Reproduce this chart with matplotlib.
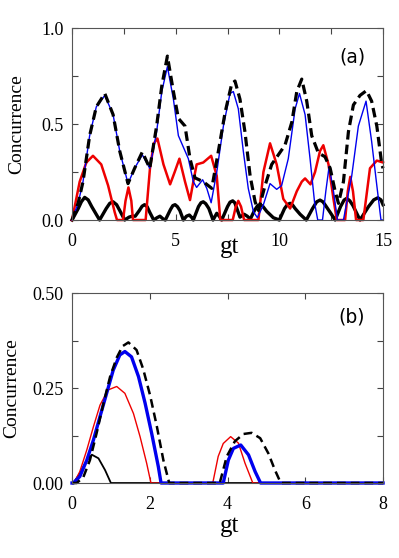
import numpy as np
import matplotlib
matplotlib.use("Agg")
import matplotlib.pyplot as plt
from matplotlib.ticker import MultipleLocator, FormatStrFormatter

plt.rcParams['font.family'] = ['Liberation Serif', 'DejaVu Serif']
plt.rcParams['mathtext.fontset'] = 'stix'

# ---- panel (a) data ----
gt_dash_a = [0, 0.3, 0.53, 0.85, 1.17, 1.58, 1.98, 2.3, 2.7, 3.02, 3.39, 3.75, 4.08, 4.33,
             4.6, 4.89, 5.13, 5.45, 5.69, 5.93, 6.33, 6.74, 7.06, 7.38, 7.7, 7.86, 8.1, 8.34,
             8.59, 8.83, 8.99, 9.31, 9.63, 9.95, 10.27, 10.6, 10.84, 11.08, 11.32, 11.56,
             11.88, 12.2, 12.45, 12.69, 12.85, 13.09, 13.33, 13.57, 13.89, 14.2, 14.45, 14.7,
             14.94, 15.0]
c_dash_a = [0, 0.09, 0.2, 0.44, 0.59, 0.66, 0.55, 0.36, 0.19, 0.27, 0.355, 0.27, 0.49, 0.7,
            0.855, 0.67, 0.53, 0.49, 0.32, 0.22, 0.2, 0.165, 0.36, 0.56, 0.71, 0.725, 0.63, 0.46,
            0.23, 0.095, 0.05, 0.18, 0.29, 0.34, 0.39, 0.51, 0.67, 0.735, 0.62, 0.44,
            0.35, 0.33, 0.27, 0.15, 0.087, 0.2, 0.46, 0.6, 0.65, 0.675, 0.62, 0.49,
            0.29, 0.27]

gt_blue_a = [0, 0.3, 0.53, 0.85, 1.17, 1.58, 1.98, 2.3, 2.7, 3.02, 3.39, 3.75, 4.08, 4.33,
             4.6, 4.89, 5.13, 5.37, 5.61, 5.85, 6.01, 6.3, 6.5, 6.71, 6.98, 7.3, 7.62, 7.78,
             8.02, 8.26, 8.5, 8.75, 8.94, 9.23, 9.55, 9.87, 10.11, 10.43, 10.76, 10.97, 11.24,
             11.48, 11.7, 11.85, 12.08, 12.24, 12.4, 12.61, 12.8, 13.09, 13.49, 13.81, 14.18,
             14.45, 14.7, 14.9, 15.0]
c_blue_a = [0, 0.09, 0.2, 0.44, 0.59, 0.65, 0.55, 0.36, 0.19, 0.27, 0.34, 0.27, 0.46, 0.67,
            0.8, 0.63, 0.44, 0.38, 0.32, 0.2, 0.17, 0.21, 0.165, 0.09, 0.25, 0.49, 0.66, 0.67,
            0.58, 0.36, 0.165, 0.043, 0.012, 0.08, 0.19, 0.16, 0.18, 0.32, 0.58, 0.66, 0.55,
            0.32, 0.09, 0, 0, 0.15, 0.28, 0.15, 0, 0, 0.23, 0.49, 0.62,
            0.41, 0.18, 0, 0]

gt_red_a = [0, 0.37, 0.69, 1.01, 1.41, 1.74, 2.06, 2.17, 2.46, 2.58, 2.72, 2.86, 2.94, 3.55,
            3.76, 3.95, 4.12, 4.41, 4.73, 4.95, 5.18, 5.45, 5.69, 5.85, 6.01, 6.33, 6.71, 6.98,
            7.15, 7.75, 7.9, 8.02, 8.15, 8.3, 8.99, 9.23, 9.55, 9.87, 10.19, 10.52, 10.84,
            11.08, 11.24, 11.5, 11.72, 11.96, 12.12, 12.37, 12.61, 12.77, 13.17, 13.3, 13.42,
            13.55, 13.7, 14.05, 14.37, 14.7, 15.0]
c_red_a = [0, 0.2, 0.3, 0.335, 0.29, 0.18, 0.04, 0, 0, 0.1, 0.17, 0.1, 0, 0,
           0.27, 0.40, 0.425, 0.29, 0.186, 0.25, 0.32, 0.2, 0.104, 0.2, 0.29, 0.3, 0.335, 0.23,
           0, 0, 0.07, 0.1, 0.07, 0, 0, 0.25, 0.4, 0.29, 0.11, 0.06, 0.15,
           0.2, 0.217, 0.186, 0.25, 0.36, 0.39, 0.29, 0.11, 0, 0, 0.15, 0.225,
           0.15, 0, 0, 0.27, 0.31, 0.3]

gt_blk_a = [0, 0.3, 0.45, 0.61, 0.78, 0.95, 1.33, 1.65, 1.82, 1.98, 2.15, 2.3, 2.54, 2.75,
            2.9, 3.05, 3.25, 3.38, 3.5, 3.62, 3.75, 3.94, 4.1, 4.24, 4.4, 4.5, 4.75, 4.86,
            4.97, 5.08, 5.2, 5.37, 5.52, 5.66, 5.8, 5.85, 6.1, 6.22, 6.33, 6.45, 6.6, 6.8,
            6.98, 7.1, 7.22, 7.5, 7.62, 7.75, 7.85, 7.95, 8.1, 8.3, 8.45, 8.6, 8.8, 8.95,
            9.07, 9.2, 9.39, 9.71, 10.0, 10.25, 10.4, 10.52, 10.64, 10.76, 11.0, 11.3, 11.6,
            11.8, 11.96, 12.1, 12.2, 12.45, 12.69, 12.95, 13.12, 13.25, 13.4, 13.55, 13.89,
            14.3, 14.55, 14.75, 14.9, 15.0]
c_blk_a = [0, 0.06, 0.095, 0.118, 0.105, 0.07, 0, 0.06, 0.087, 0.095, 0.08, 0.05, 0, 0.015,
           0.02, 0.02, 0.05, 0.072, 0.08, 0.07, 0.04, 0, 0.012, 0.02, 0.005, 0, 0.055, 0.075,
           0.08, 0.07, 0.05, 0, 0.02, 0.026, 0.01, 0, 0.07, 0.09, 0.095, 0.085, 0.06, 0,
           0.035, 0.02, 0, 0.07, 0.093, 0.1, 0.09, 0.06, 0.015, 0.03, 0.02, 0.005, 0.05, 0.075,
           0.08, 0.072, 0.045, 0.012, 0, 0.06, 0.082, 0.087, 0.078, 0.06, 0.03, 0, 0.06,
           0.095, 0.104, 0.095, 0.08, 0.04, 0, 0.07, 0.104, 0.113, 0.1, 0.075, 0,
           0.07, 0.105, 0.116, 0.105, 0.08]

# ---- panel (b) data ----
gt_dash_b = [0, 0.12, 0.29, 0.46, 0.63, 0.81, 0.98, 1.15, 1.3, 1.45, 1.66, 1.83, 2.01, 2.18,
             2.35, 2.5, 3.8, 3.98, 4.19, 4.41, 4.62, 4.84, 5.05, 5.22, 5.37, 8.0]
c_dash_b = [0, 0, 0.015, 0.06, 0.13, 0.21, 0.28, 0.33, 0.36, 0.37, 0.35, 0.30, 0.23, 0.15,
            0.06, 0, 0, 0.07, 0.11, 0.129, 0.132, 0.118, 0.078, 0.034, 0, 0]

gt_blue_b = [0, 0.034, 0.2, 0.38, 0.55, 0.72, 0.89, 1.06, 1.23, 1.36, 1.53, 1.71, 1.88, 2.05,
             2.22, 2.29, 3.89, 4.02, 4.15, 4.34, 4.54, 4.71, 4.85, 8.0]
c_blue_b = [0, 0, 0.017, 0.06, 0.113, 0.175, 0.236, 0.297, 0.337, 0.346, 0.332, 0.28, 0.21,
            0.13, 0.043, 0, 0, 0.06, 0.091, 0.1, 0.074, 0.03, 0, 0]

gt_red_b = [0, 0.05, 0.2, 0.38, 0.55, 0.72, 0.93, 1.15, 1.36, 1.58, 1.75, 1.92, 2.03, 3.62,
            3.76, 3.89, 4.08, 4.28, 4.45, 4.65, 8.0]
c_red_b = [0, 0, 0.03, 0.087, 0.148, 0.205, 0.245, 0.254, 0.236, 0.183, 0.122, 0.052, 0, 0,
           0.07, 0.104, 0.122, 0.105, 0.052, 0, 0]

gt_blk_b = [0, 0.034, 0.2, 0.38, 0.51, 0.68, 0.85, 1.0, 8.0]
c_blk_b = [0, 0, 0.025, 0.06, 0.0745, 0.065, 0.034, 0, 0]


def style_axes(ax, xmaj, ymin, ylim, xlim, yfmt):
    ax.set_xlim(*xlim)
    ax.set_ylim(*ylim)
    ax.xaxis.set_major_locator(MultipleLocator(xmaj))
    ax.yaxis.set_major_locator(MultipleLocator(2 * ymin))
    ax.yaxis.set_minor_locator(MultipleLocator(ymin))
    ax.yaxis.set_major_formatter(FormatStrFormatter(yfmt))
    ax.tick_params(which='both', direction='in', top=True, right=True,
                   labelsize=13, color='#444444', length=4, width=0.8)
    ax.tick_params(axis='x', which='both', pad=9)
    ax.tick_params(axis='y', which='both', pad=6)
    for s in ax.spines.values():
        s.set_color('#555555')
        s.set_linewidth(0.8)


fig = plt.figure(figsize=(3.99, 5.58), dpi=100)
ax1 = fig.add_axes([0.1805, 0.6057, 0.7795, 0.3436])
ax2 = fig.add_axes([0.1805, 0.1344, 0.7795, 0.3405])

# panel (a)
ax1.plot(gt_blk_a, c_blk_a, color='black', lw=2.4, clip_on=False)
ax1.plot(gt_red_a, c_red_a, color='#ee0000', lw=1.8, clip_on=False)
ax1.plot(gt_blue_a, c_blue_a, color='#0000ee', lw=1.0, clip_on=False)
ax1.plot(gt_dash_a, c_dash_a, color='black', lw=2.3, ls=(0, (3, 1.6)), clip_on=False)
style_axes(ax1, 5, 0.25, (0, 1.0), (0, 15), '%.1f')
ax1.xaxis.set_minor_locator(MultipleLocator(2.5))
ax1.set_ylabel('Concurrence', fontsize=14)
ax1.yaxis.set_label_coords(-0.151, 0.5)
ax1.set_xlabel('gt', fontsize=18)
ax1.xaxis.set_label_coords(0.508, -0.085)
ax1.text(0.9, 0.85, '(a)', transform=ax1.transAxes, fontsize=13.5,
         family='DejaVu Sans', ha='center', va='center')

# panel (b)
ax2.plot(gt_blk_b, c_blk_b, color='black', lw=1.3, clip_on=False)
ax2.plot(gt_red_b, c_red_b, color='#ee0000', lw=1.0, clip_on=False)
ax2.plot(gt_blue_b, c_blue_b, color='#0000ee', lw=2.4, clip_on=False)
ax2.plot(gt_dash_b, c_dash_b, color='black', lw=1.8, ls=(0, (3.5, 2)), clip_on=False)
style_axes(ax2, 2, 0.125, (0, 0.5), (0, 8), '%.2f')
ax2.set_ylabel('Concurrence', fontsize=14)
ax2.yaxis.set_label_coords(-0.167, 0.5)
ax2.set_xlabel('gt', fontsize=18)
ax2.xaxis.set_label_coords(0.508, -0.17)
ax2.text(0.9, 0.876, '(b)', transform=ax2.transAxes, fontsize=13.5,
         family='DejaVu Sans', ha='center', va='center')

fig.savefig('out.png', dpi=100)
